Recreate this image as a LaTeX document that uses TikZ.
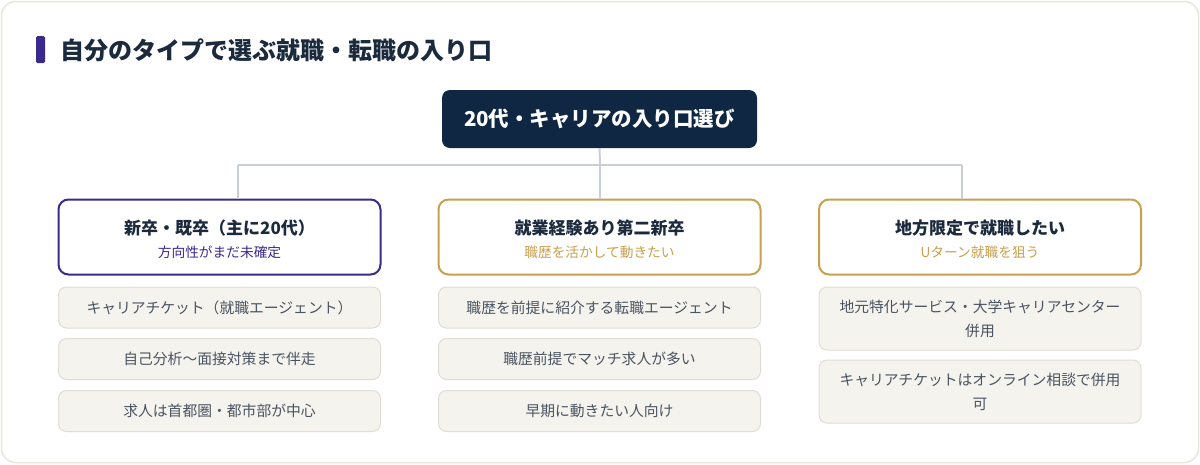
\documentclass[tikz,border=0pt]{standalone}
\usepackage{fontspec}
\setmainfont{Noto Sans CJK JP}
\usetikzlibrary{positioning}
\definecolor{cardline}{HTML}{E8E6DE}
\definecolor{navy}{HTML}{1B2A3D}
\definecolor{rootfill}{HTML}{0F2742}
\definecolor{purp}{HTML}{3A2A8C}
\definecolor{gold}{HTML}{C9A04E}
\definecolor{conn}{HTML}{C9CED6}
\definecolor{itemfill}{HTML}{F5F3EE}
\definecolor{itemline}{HTML}{E0DDD4}
\definecolor{itemtext}{HTML}{4A5461}
\begin{document}
\begin{tikzpicture}[x=1pt,y=-1pt,
  rootbox/.style={fill=rootfill, rounded corners=8pt, minimum width=315pt, minimum height=58pt, inner sep=0pt, text=white, font=\fontsize{20.5}{24}\selectfont\bfseries},
  catbox/.style={draw=#1, line width=2pt, fill=white, rounded corners=10pt, minimum width=322pt, minimum height=75pt, inner sep=0pt},
  cattitle/.style={text=navy, font=\fontsize{17}{20}\selectfont\bfseries, inner sep=0pt},
  catsub/.style={text=#1, font=\fontsize{13.7}{16}\selectfont, inner sep=0pt},
  itembox/.style={draw=itemline, line width=1pt, fill=itemfill, rounded corners=8pt, minimum width=322pt, minimum height=#1, inner sep=0pt, text=itemtext, font=\fontsize{14.8}{24}\selectfont, align=center},
  connector/.style={draw=conn, line width=2pt}
]
\useasboundingbox (0,0) rectangle (1200,464);
\draw[draw=cardline, line width=1.5pt, fill=white, rounded corners=14pt] (1.5,1.5) rectangle (1198.5,462.5);
% title
\fill[purp, rounded corners=1.5pt] (36,36) rectangle (45,63);
\node[anchor=west, inner sep=0pt, text=navy, font=\fontsize{24}{28}\selectfont\bfseries] (title) at (60,50) {自分のタイプで選ぶ就職・転職の入り口};
% root
\node[rootbox] (root) at (599.5,119) {20代・キャリアの入り口選び};
% categories
\node[catbox=purp] (c1) at (219.5,237) {};
\node[catbox=gold] (c2) at (599.5,237) {};
\node[catbox=gold] (c3) at (980,237) {};
\node[cattitle] (t1) at (219.5,228) {新卒・既卒（主に20代）};
\node[catsub=purp] (s1) at (219.5,252.5) {方向性がまだ未確定};
\node[cattitle] (t2) at (599.5,228) {就業経験あり第二新卒};
\node[catsub=gold] (s2) at (599.5,252.5) {職歴を活かして動きたい};
\node[cattitle] (t3) at (980,228) {地方限定で就職したい};
\node[catsub=gold] (s3) at (980,252.5) {Uターン就職を狙う};
% connectors
\coordinate (j) at (600,165);
\coordinate (l1) at (238,165);
\coordinate (l3) at (962,165);
\draw[connector] (root.south) -- (j);
\draw[connector] (l1) -- (l3);
\draw[connector] (l1) -- (l1 |- c1.north);
\draw[connector] (j) -- (j |- c2.north);
\draw[connector] (l3) -- (l3 |- c3.north);
% items column 1
\node[itembox=41pt] (a1) at (219.5,307.5) {キャリアチケット（就職エージェント）};
\node[itembox=41pt] (a2) at (219.5,359) {自己分析〜面接対策まで伴走};
\node[itembox=41pt] (a3) at (219.5,411) {求人は首都圏・都市部が中心};
% items column 2
\node[itembox=41pt] (b1) at (599.5,307.5) {職歴を前提に紹介する転職エージェント};
\node[itembox=41pt] (b2) at (599.5,359) {職歴前提でマッチ求人が多い};
\node[itembox=41pt] (b3) at (599.5,411) {早期に動きたい人向け};
% items column 3
\node[itembox=63pt] (d1) at (980,318.5) {地元特化サービス・大学キャリアセンター\\併用};
\node[itembox=63pt] (d2) at (980,391.5) {キャリアチケットはオンライン相談で併用\\可};
\end{tikzpicture}
\end{document}
